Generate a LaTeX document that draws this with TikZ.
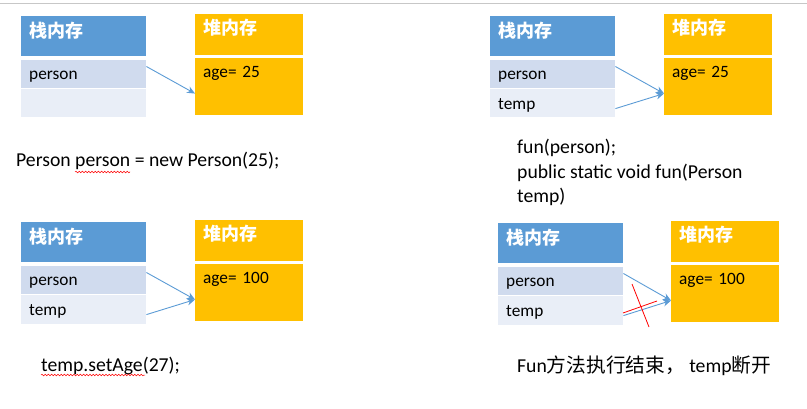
\documentclass[tikz,border=0pt]{standalone}
\usepackage{fontspec}
\setmainfont{Carlito}
\newfontfamily\cjk{Noto Sans CJK SC}
\usetikzlibrary{positioning,arrows.meta,calc,decorations.pathmorphing}
\definecolor{stackblue}{HTML}{5B9BD5}
\definecolor{rowdark}{HTML}{D0DBEE}
\definecolor{rowlight}{HTML}{E9EEF7}
\definecolor{heapgold}{HTML}{FFC000}
\newcommand\txtfont{\fontsize{17.3}{24.4}\selectfont}
\newcommand\codefont{\fontsize{19.7}{24.5}\selectfont}
\newcommand\hdfont{\cjk\bfseries\fontsize{18}{20}\selectfont}

\begin{document}
\begin{tikzpicture}[x=1pt,y=-1pt,
	cell/.style={rectangle,inner xsep=8pt,inner ysep=0pt,align=left,font=\txtfont},
	stackhead/.style={cell,anchor=north west,fill=stackblue,text=white,text width=109pt,text height=21pt,text depth=19pt,font=\hdfont},
	stackrow/.style={cell,fill=rowdark,text width=109pt,text height=20pt,text depth=8pt},
	stackrowb/.style={stackrow,fill=rowlight},
	heaphead/.style={cell,anchor=north west,fill=heapgold,text=white,text width=92pt,text height=20pt,text depth=21pt,font=\hdfont},
	heapbody/.style={cell,fill=heapgold,text width=92pt,text height=20pt,text depth=37pt},
	ptr/.style={-{Stealth[length=8pt,width=7pt]},draw=stackblue,line width=0.9pt},
	code/.style={anchor=base west,font=\codefont,inner sep=0pt,align=left},
	wavy/.style={red,line width=0.5pt,decorate,decoration={snake,amplitude=0.8pt,segment length=3.2pt}}]
		\useasboundingbox (0,0) rectangle (807,409);
		% the grey line at the top
		\draw[black!22,line width=1pt] (0,3.5) -- (807,3.5);
		
		% stack and heap boxes of the four steps
		\foreach \n/\sx/\sy/\hx/\hy/\rowb/\age in {1/21/16/195/14/{}/25,2/490/16/664/14/temp/25,3/21/222/195/220/temp/100,4/498/223/671/221/temp/100}
		{
			\node[stackhead] (s\n h) at (\sx,\sy) {栈内存};
			\node[stackrow,below=3pt of s\n h] (s\n a) {person};
			\node[stackrowb,below=1.5pt of s\n a] (s\n b) {\rowb};
			\node[heaphead] (h\n h) at (\hx,\hy) {堆内存};
			\node[heapbody,below=2pt of h\n h] (h\n b) {age= \age};
		}
		
		% the references
		\draw[ptr] ($(s1a.north east)!0.25!(s1a.south east)$) -- ($(h1b.north west)!0.63!(h1b.south west)$);
		\foreach \n in {2,3,4}
		{
			\draw[ptr] ($(s\n a.north east)!0.25!(s\n a.south east)$) -- ($(h\n b.north west)!0.63!(h\n b.south west)$);
			\draw[ptr] ($(s\n b.north east)!0.68!(s\n b.south east)$) -- ($(h\n b.north west)!0.63!(h\n b.south west)$);
		}
		% the cross over temp
		\draw[red,line width=0.8pt] (632,284) -- (649,327);
		\draw[red,line width=0.8pt] (623,313) -- (657,301);
		
		% the code under each step
		\node[code] (c1) at (16,167) {Person person = new Person(25);};
		\node[code] (c2) at (517,203) {fun(person);\\public static void fun(Person\\temp)};
		\node[code] (c3) at (41,371) {temp.setAge(27);};
		\node[code] (c4) at (517,372) {Fun{\cjk 方法执行结束，} temp{\cjk 断开}};
		% spelling marks
		\draw[wavy] (75,172) -- (130,172);
		\draw[wavy] (41,375) -- (145,375);
	\end{tikzpicture}
\end{document}
